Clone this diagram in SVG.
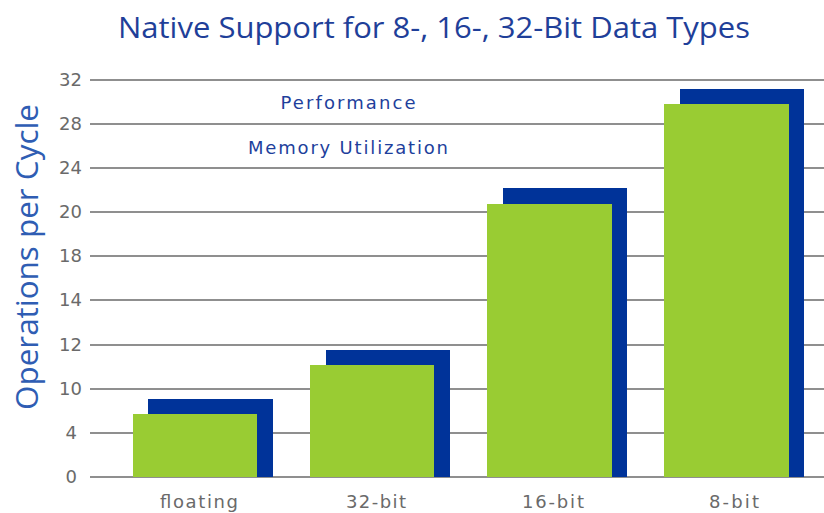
<svg xmlns="http://www.w3.org/2000/svg" width="824" height="513" viewBox="0 0 824 513">
  <style>
    .grid { stroke: #8f8f8f; stroke-width: 2; }
    .tick { font-family: "DejaVu Sans", Verdana, sans-serif; font-size: 18px; fill: #6a6a6a; text-anchor: end; }
    .cat { font-family: "DejaVu Sans", Verdana, sans-serif; font-size: 18px; fill: #6a6a6a; text-anchor: middle; }
    .legend { font-family: "DejaVu Sans", Verdana, sans-serif; font-size: 18px; fill: #1e3f9c; text-anchor: middle; }
    .title { font-family: "Open Sans", "Noto Sans", sans-serif; font-size: 29px; fill: #1f3f99; text-anchor: middle; }
    .axis-title { font-family: "Open Sans", "Noto Sans", sans-serif; font-size: 31px; fill: #2f5db3; text-anchor: middle; }
    .mem { fill: #003399; }
    .perf { fill: #99cc33; }
  </style>

  <rect width="824" height="513" fill="#ffffff"/>

  <!-- title -->
  <text id="title" class="title" x="434" y="38" textLength="632" lengthAdjust="spacingAndGlyphs">Native Support for 8-, 16-, 32-Bit Data Types</text>

  <!-- vertical axis title -->
  <text id="y-title" class="axis-title" transform="translate(38 257) rotate(-90)" x="0" y="0" textLength="306" lengthAdjust="spacingAndGlyphs">Operations per Cycle</text>

  <!-- gridlines and scale -->
  <g id="grid">
    <line class="grid" x1="90" y1="80" x2="824" y2="80"/>
    <line class="grid" x1="90" y1="124" x2="824" y2="124"/>
    <line class="grid" x1="90" y1="168" x2="824" y2="168"/>
    <line class="grid" x1="90" y1="212" x2="824" y2="212"/>
    <line class="grid" x1="90" y1="256" x2="824" y2="256"/>
    <line class="grid" x1="90" y1="300" x2="824" y2="300"/>
    <line class="grid" x1="90" y1="345" x2="824" y2="345"/>
    <line class="grid" x1="90" y1="389" x2="824" y2="389"/>
    <line class="grid" x1="90" y1="433" x2="824" y2="433"/>
    <line class="grid" x1="90" y1="477" x2="824" y2="477"/>
  </g>
  <g id="scale">
    <text class="tick" x="82" y="86">32</text>
    <text class="tick" x="82" y="130">28</text>
    <text class="tick" x="82" y="174">24</text>
    <text class="tick" x="82" y="218">20</text>
    <text class="tick" x="82" y="262">18</text>
    <text class="tick" x="82" y="306">14</text>
    <text class="tick" x="82" y="351">12</text>
    <text class="tick" x="82" y="395">10</text>
    <text class="tick" x="77" y="439">4</text>
    <text class="tick" x="77" y="483">0</text>
  </g>

  <!-- legend labels -->
  <g id="legend">
    <text class="legend" x="348" y="109" textLength="135" lengthAdjust="spacing">Performance</text>
    <text class="legend" x="348" y="154" textLength="200" lengthAdjust="spacing">Memory Utilization</text>
  </g>

  <!-- bars: memory utilization behind, performance in front -->
  <g id="bar-floating">
    <rect class="mem" x="148" y="399" width="125" height="78"/>
    <rect class="perf" x="133" y="414" width="124" height="63"/>
    <text class="cat" x="199" y="508" textLength="78" lengthAdjust="spacing">floating</text>
  </g>
  <g id="bar-32bit">
    <rect class="mem" x="326" y="350" width="124" height="127"/>
    <rect class="perf" x="310" y="365" width="124" height="112"/>
    <text class="cat" x="376" y="508" textLength="60" lengthAdjust="spacing">32-bit</text>
  </g>
  <g id="bar-16bit">
    <rect class="mem" x="503" y="188" width="124" height="289"/>
    <rect class="perf" x="487" y="204" width="125" height="273"/>
    <text class="cat" x="553" y="508" textLength="62" lengthAdjust="spacing">16-bit</text>
  </g>
  <g id="bar-8bit">
    <rect class="mem" x="680" y="89" width="124" height="388"/>
    <rect class="perf" x="664" y="104" width="125" height="373"/>
    <text class="cat" x="734" y="508" textLength="50" lengthAdjust="spacing">8-bit</text>
  </g>
</svg>
